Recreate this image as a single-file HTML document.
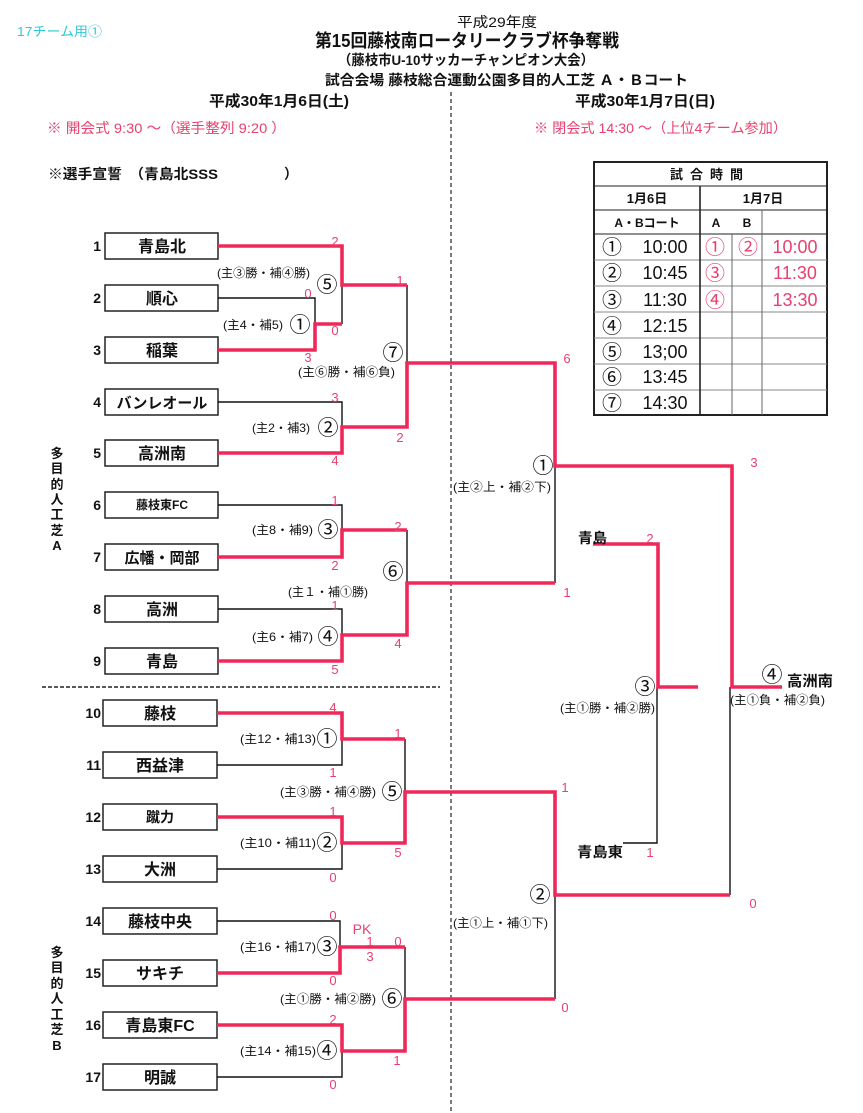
<!DOCTYPE html>
<html><head><meta charset="utf-8"><style>
html,body{margin:0;padding:0;background:#fff;}
svg{display:block;}
text{font-family:"Liberation Sans","Noto Sans CJK JP",sans-serif;}
.r{fill:#e8406f;font-size:13px;text-anchor:middle;}
.c{font-size:21px;text-anchor:middle;fill:#111;}
.l{font-size:12px;fill:#111;}
.t{font-size:16px;font-weight:bold;text-anchor:middle;fill:#111;}
.n{font-size:14px;font-weight:bold;text-anchor:end;fill:#111;}
.v{font-size:13px;font-weight:bold;text-anchor:middle;fill:#111;}
.tc{font-size:20px;text-anchor:middle;}
</style></head><body>
<svg width="863" height="1113" viewBox="0 0 863 1113" xmlns="http://www.w3.org/2000/svg">
<!-- header -->
<text x="17" y="36" font-size="13" fill="#2cc9d6" textLength="85" lengthAdjust="spacingAndGlyphs">17チーム用①</text>
<text x="457" y="27" font-size="14" fill="#111" textLength="80" lengthAdjust="spacingAndGlyphs">平成29年度</text>
<text x="315" y="47" font-size="18" font-weight="bold" fill="#111" textLength="304" lengthAdjust="spacingAndGlyphs">第15回藤枝南ロータリークラブ杯争奪戦</text>
<text x="338" y="65" font-size="14" font-weight="bold" fill="#111" textLength="256" lengthAdjust="spacingAndGlyphs">（藤枝市U-10サッカーチャンピオン大会）</text>
<text x="325" y="85" font-size="14" font-weight="bold" fill="#111" textLength="363" lengthAdjust="spacingAndGlyphs">試合会場 藤枝総合運動公園多目的人工芝 Ａ・Ｂコート</text>
<text x="209" y="106" font-size="15" font-weight="bold" fill="#111" textLength="140" lengthAdjust="spacingAndGlyphs">平成30年1月6日(土)</text>
<text x="575" y="106" font-size="15" font-weight="bold" fill="#111" textLength="140" lengthAdjust="spacingAndGlyphs">平成30年1月7日(日)</text>
<text x="47" y="133" font-size="14" fill="#e8406f" textLength="239" lengthAdjust="spacingAndGlyphs">※ 開会式 9:30 ～（選手整列 9:20 ）</text>
<text x="534" y="133" font-size="14" fill="#e8406f" textLength="253" lengthAdjust="spacingAndGlyphs">※ 閉会式 14:30 ～（上位4チーム参加）</text>
<text x="48" y="179" font-size="14" font-weight="bold" fill="#111" textLength="170" lengthAdjust="spacingAndGlyphs">※選手宣誓　（青島北SSS</text>
<text x="284" y="179" font-size="14" font-weight="bold" fill="#111">）</text>

<!-- dashed lines -->
<line x1="451" y1="92" x2="451" y2="1113" stroke="#222" stroke-width="1.2" stroke-dasharray="4,3"/>
<line x1="42" y1="687" x2="440" y2="687" stroke="#222" stroke-width="1.6" stroke-dasharray="4,2"/>

<!-- table -->
<g stroke="#222" fill="none">
<rect x="594" y="162" width="233" height="253" stroke-width="2"/>
<g stroke-width="1">
<line x1="594" y1="186" x2="827" y2="186"/>
<line x1="594" y1="210" x2="827" y2="210"/>
<line x1="594" y1="234" x2="827" y2="234"/>
<line x1="594" y1="260" x2="827" y2="260" stroke="#888"/>
<line x1="594" y1="286" x2="827" y2="286" stroke="#888"/>
<line x1="594" y1="312" x2="827" y2="312" stroke="#888"/>
<line x1="594" y1="338" x2="827" y2="338" stroke="#888"/>
<line x1="594" y1="364" x2="827" y2="364" stroke="#888"/>
<line x1="594" y1="390" x2="827" y2="390" stroke="#888"/>
<line x1="700" y1="186" x2="700" y2="415" stroke-width="1.6"/>
<line x1="732" y1="234" x2="732" y2="415" stroke="#666"/>
<line x1="762" y1="210" x2="762" y2="415" stroke="#666"/>
</g></g>
<text x="710" y="179" font-size="13" font-weight="bold" fill="#111" text-anchor="middle" letter-spacing="7">試合時間</text>
<text x="647" y="203" font-size="13" font-weight="bold" fill="#111" text-anchor="middle">1月6日</text>
<text x="763" y="203" font-size="13" font-weight="bold" fill="#111" text-anchor="middle">1月7日</text>
<text x="647" y="227" font-size="12" font-weight="bold" fill="#111" text-anchor="middle">A・Bコート</text>
<text x="716" y="227" font-size="12" font-weight="bold" fill="#111" text-anchor="middle">A</text>
<text x="747" y="227" font-size="12" font-weight="bold" fill="#111" text-anchor="middle">B</text>
<g fill="#111">
<text class="tc" x="612" y="254">①</text><text x="665" y="253" font-size="18" text-anchor="middle">10:00</text>
<text class="tc" x="612" y="280">②</text><text x="665" y="279" font-size="18" text-anchor="middle">10:45</text>
<text class="tc" x="612" y="307">③</text><text x="665" y="306" font-size="18" text-anchor="middle">11:30</text>
<text class="tc" x="612" y="333">④</text><text x="665" y="332" font-size="18" text-anchor="middle">12:15</text>
<text class="tc" x="612" y="359">⑤</text><text x="665" y="358" font-size="18" text-anchor="middle">13;00</text>
<text class="tc" x="612" y="384">⑥</text><text x="665" y="383" font-size="18" text-anchor="middle">13:45</text>
<text class="tc" x="612" y="410">⑦</text><text x="665" y="409" font-size="18" text-anchor="middle">14:30</text>
</g>
<g fill="#e8406f">
<text class="tc" x="715" y="254">①</text><text class="tc" x="748" y="254">②</text><text x="795" y="253" font-size="18" text-anchor="middle">10:00</text>
<text class="tc" x="715" y="280">③</text><text x="795" y="279" font-size="18" text-anchor="middle">11:30</text>
<text class="tc" x="715" y="307">④</text><text x="795" y="306" font-size="18" text-anchor="middle">13:30</text>
</g>

<!-- vertical labels -->
<g class="v">
<text x="57" y="458" class="v">多</text><text x="57" y="473" class="v">目</text><text x="57" y="489" class="v">的</text><text x="57" y="504" class="v">人</text><text x="57" y="519" class="v">工</text><text x="57" y="535" class="v">芝</text><text x="57" y="550" class="v">A</text>
<text x="57" y="957" class="v">多</text><text x="57" y="972" class="v">目</text><text x="57" y="988" class="v">的</text><text x="57" y="1003" class="v">人</text><text x="57" y="1019" class="v">工</text><text x="57" y="1034" class="v">芝</text><text x="57" y="1050" class="v">B</text>
</g>

<!-- team boxes -->
<g fill="none" stroke="#222" stroke-width="1.5">
<rect x="105" y="233" width="113" height="26"/>
<rect x="105" y="285" width="113" height="26"/>
<rect x="105" y="337" width="113" height="26"/>
<rect x="105" y="389" width="113" height="26"/>
<rect x="105" y="440" width="113" height="26"/>
<rect x="105" y="492" width="113" height="26"/>
<rect x="105" y="544" width="113" height="26"/>
<rect x="105" y="596" width="113" height="26"/>
<rect x="105" y="648" width="113" height="26"/>
<rect x="103" y="700" width="114" height="26"/>
<rect x="103" y="752" width="114" height="26"/>
<rect x="103" y="804" width="114" height="26"/>
<rect x="103" y="856" width="114" height="26"/>
<rect x="103" y="908" width="114" height="26"/>
<rect x="103" y="960" width="114" height="26"/>
<rect x="103" y="1012" width="114" height="26"/>
<rect x="103" y="1064" width="114" height="26"/>
</g>
<g>
<text class="n" x="101" y="251">1</text><text class="t" x="162" y="252">青島北</text>
<text class="n" x="101" y="303">2</text><text class="t" x="162" y="304">順心</text>
<text class="n" x="101" y="355">3</text><text class="t" x="162" y="356">稲葉</text>
<text class="n" x="101" y="407">4</text><text class="t" x="162" y="408" style="font-size:15px">バンレオール</text>
<text class="n" x="101" y="458">5</text><text class="t" x="162" y="459">高洲南</text>
<text class="n" x="101" y="510">6</text><text class="t" x="162" y="509" style="font-size:12px">藤枝東FC</text>
<text class="n" x="101" y="562">7</text><text class="t" x="162" y="563" style="font-size:15px">広幡・岡部</text>
<text class="n" x="101" y="614">8</text><text class="t" x="162" y="615">高洲</text>
<text class="n" x="101" y="666">9</text><text class="t" x="162" y="667">青島</text>
<text class="n" x="101" y="718">10</text><text class="t" x="160" y="719">藤枝</text>
<text class="n" x="101" y="770">11</text><text class="t" x="160" y="771">西益津</text>
<text class="n" x="101" y="822">12</text><text class="t" x="160" y="822" style="font-size:14px">蹴力</text>
<text class="n" x="101" y="874">13</text><text class="t" x="160" y="875">大洲</text>
<text class="n" x="101" y="926">14</text><text class="t" x="160" y="927">藤枝中央</text>
<text class="n" x="101" y="978">15</text><text class="t" x="160" y="979">サキチ</text>
<text class="n" x="101" y="1030">16</text><text class="t" x="160" y="1031">青島東FC</text>
<text class="n" x="101" y="1082">17</text><text class="t" x="160" y="1083">明誠</text>
</g>

<!-- black lines -->
<g stroke="#111" stroke-width="1.4" fill="none">
<polyline points="218,298 315,298 315,324"/>
<line x1="342" y1="285" x2="342" y2="324"/>
<polyline points="218,402 342,402 342,427"/>
<line x1="407" y1="285" x2="407" y2="363"/>
<polyline points="218,505 342,505 342,530"/>
<polyline points="218,609 342,609 342,635"/>
<line x1="407" y1="530" x2="407" y2="583"/>
<line x1="555" y1="466" x2="555" y2="583"/>
<polyline points="217,765 342,765 342,739"/>
<polyline points="217,869 342,869 342,843"/>
<line x1="405" y1="739" x2="405" y2="792"/>
<polyline points="217,921 340,921 340,947"/>
<polyline points="217,1077 342,1077 342,1051"/>
<line x1="405" y1="947" x2="405" y2="999"/>
<line x1="555" y1="895" x2="555" y2="999"/>
<line x1="730" y1="687" x2="730" y2="895"/>
<polyline points="623,843 657,843 657,687"/>
</g>
<!-- red lines -->
<g stroke="#f0285a" stroke-width="3.6" fill="none" stroke-linejoin="miter">
<polyline points="218,350 315,350 315,324 342,324"/>
<polyline points="218,246 342,246 342,285 407,285"/>
<polyline points="218,453 342,453 342,427 407,427 407,363 555,363 555,466 732,466 732,687 782,687"/>
<polyline points="218,557 342,557 342,530 407,530"/>
<polyline points="218,661 342,661 342,635 407,635 407,583 555,583"/>
<polyline points="217,713 342,713 342,739 405,739"/>
<polyline points="217,817 342,817 342,843 405,843 405,792 555,792 555,895 730,895"/>
<polyline points="217,973 340,973 340,947 405,947"/>
<polyline points="217,1025 342,1025 342,1051 405,1051 405,999 555,999"/>
<polyline points="593,544 658,544 658,687 698,687"/>
</g>

<!-- match labels -->
<g class="l">
<text x="217" y="277" textLength="93" lengthAdjust="spacingAndGlyphs">(主③勝・補④勝)</text>
<text x="223" y="329" textLength="60" lengthAdjust="spacingAndGlyphs">(主4・補5)</text>
<text x="298" y="376" textLength="97" lengthAdjust="spacingAndGlyphs">(主⑥勝・補⑥負)</text>
<text x="252" y="432" textLength="58" lengthAdjust="spacingAndGlyphs">(主2・補3)</text>
<text x="252" y="534" textLength="61" lengthAdjust="spacingAndGlyphs">(主8・補9)</text>
<text x="288" y="596" textLength="80" lengthAdjust="spacingAndGlyphs">(主１・補①勝)</text>
<text x="252" y="641" textLength="61" lengthAdjust="spacingAndGlyphs">(主6・補7)</text>
<text x="453" y="491" textLength="98" lengthAdjust="spacingAndGlyphs">(主②上・補②下)</text>
<text x="453" y="927" textLength="95" lengthAdjust="spacingAndGlyphs">(主①上・補①下)</text>
<text x="240" y="743" textLength="76" lengthAdjust="spacingAndGlyphs">(主12・補13)</text>
<text x="240" y="847" textLength="76" lengthAdjust="spacingAndGlyphs">(主10・補11)</text>
<text x="280" y="796" textLength="96" lengthAdjust="spacingAndGlyphs">(主③勝・補④勝)</text>
<text x="240" y="951" textLength="76" lengthAdjust="spacingAndGlyphs">(主16・補17)</text>
<text x="240" y="1055" textLength="76" lengthAdjust="spacingAndGlyphs">(主14・補15)</text>
<text x="280" y="1003" textLength="96" lengthAdjust="spacingAndGlyphs">(主①勝・補②勝)</text>
<text x="560" y="712" textLength="95" lengthAdjust="spacingAndGlyphs">(主①勝・補②勝)</text>
<text x="730" y="704" textLength="95" lengthAdjust="spacingAndGlyphs">(主①負・補②負)</text>
</g>
<g>
<text class="c" x="327" y="292">⑤</text>
<text class="c" x="300" y="332">①</text>
<text class="c" x="393" y="360">⑦</text>
<text class="c" x="328" y="435">②</text>
<text class="c" x="328" y="537">③</text>
<text class="c" x="393" y="579">⑥</text>
<text class="c" x="328" y="644">④</text>
<text class="c" x="543" y="473">①</text>
<text class="c" x="540" y="902">②</text>
<text class="c" x="327" y="746">①</text>
<text class="c" x="327" y="850">②</text>
<text class="c" x="392" y="799">⑤</text>
<text class="c" x="327" y="954">③</text>
<text class="c" x="327" y="1058">④</text>
<text class="c" x="392" y="1006">⑥</text>
<text class="c" x="645" y="694">③</text>
<text class="c" x="772" y="682">④</text>
</g>
<text x="787" y="686" font-size="15" font-weight="bold" fill="#111" textLength="46" lengthAdjust="spacingAndGlyphs">高洲南</text>
<text x="578" y="543" font-size="14" font-weight="bold" fill="#111" textLength="29" lengthAdjust="spacingAndGlyphs">青島</text>
<text x="577" y="857" font-size="14" font-weight="bold" fill="#111" textLength="46" lengthAdjust="spacingAndGlyphs">青島東</text>

<!-- scores -->
<g class="r">
<text x="335" y="246">2</text>
<text x="308" y="298">0</text>
<text x="335" y="335">0</text>
<text x="308" y="362">3</text>
<text x="400" y="285">1</text>
<text x="335" y="402">3</text>
<text x="400" y="442">2</text>
<text x="335" y="465">4</text>
<text x="335" y="505">1</text>
<text x="335" y="570">2</text>
<text x="398" y="531">2</text>
<text x="335" y="610">1</text>
<text x="398" y="648">4</text>
<text x="335" y="674">5</text>
<text x="567" y="363">6</text>
<text x="567" y="597">1</text>
<text x="333" y="712">4</text>
<text x="333" y="777">1</text>
<text x="398" y="738">1</text>
<text x="333" y="816">1</text>
<text x="333" y="882">0</text>
<text x="398" y="857">5</text>
<text x="333" y="920">0</text>
<text x="362" y="934" font-size="14">PK</text>
<text x="370" y="946">1</text>
<text x="398" y="946">0</text>
<text x="370" y="961">3</text>
<text x="333" y="985">0</text>
<text x="333" y="1024">2</text>
<text x="333" y="1089">0</text>
<text x="397" y="1065">1</text>
<text x="565" y="792">1</text>
<text x="565" y="1012">0</text>
<text x="754" y="467">3</text>
<text x="650" y="543">2</text>
<text x="650" y="857">1</text>
<text x="753" y="908">0</text>
</g>
</svg>
</body></html>
